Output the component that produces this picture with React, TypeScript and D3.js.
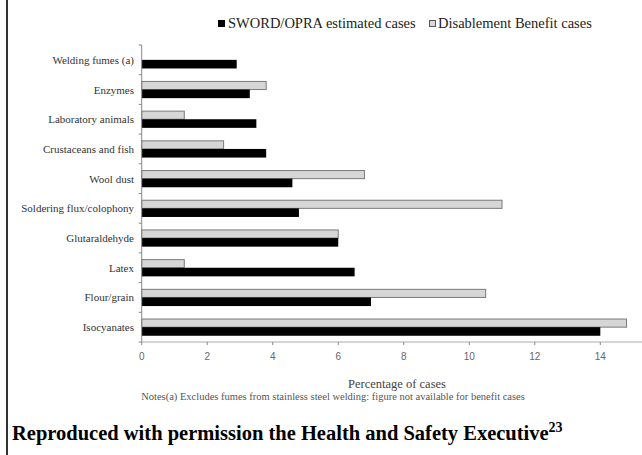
import React from "react";
import * as d3 from "d3";

const categories = [
  "Welding fumes (a)",
  "Enzymes",
  "Laboratory animals",
  "Crustaceans and fish",
  "Wool dust",
  "Soldering flux/colophony",
  "Glutaraldehyde",
  "Latex",
  "Flour/grain",
  "Isocyanates",
];
const swordValues = [2.9, 3.3, 3.5, 3.8, 4.6, 4.8, 6.0, 6.5, 7.0, 14.0];
const benefitValues: (number | null)[] = [null, 3.8, 1.3, 2.5, 6.8, 11.0, 6.0, 1.3, 10.5, 14.8];
const xTicks = [0, 2, 4, 6, 8, 10, 12, 14];
const seriesNames = ["SWORD/OPRA estimated cases", "Disablement Benefit cases"];

export default function App() {
  const W = 642;
  const H = 455;
  const x = d3.scaleLinear().domain([0, 15.3]).range([141.7, 642.9]);
  const y = d3.scaleBand<string>().domain(categories).range([45, 342]).paddingInner(0.42).paddingOuter(0.21);
  const bh = y.bandwidth() / 2;
  const step = y.step();
  const serif = "'Liberation Serif', 'Times New Roman', serif";
  const sans = "'Liberation Sans', Arial, sans-serif";

  return (
    <svg width={W} height={H} style={{ position: "absolute", left: 0, top: 0, background: "#fff" }}>
      <rect x={0} y={0} width={W} height={H} fill="#fff" />
      <line x1={7} x2={7} y1={0} y2={H} stroke="#333" strokeWidth={2} />

      {/* legend */}
      <rect x={218} y={20} width={7} height={7} fill="#000" />
      <text x={228} y={28} fontFamily={serif} fontSize={14.5} fill="#222">{seriesNames[0]}</text>
      <rect x={429.5} y={20.5} width={6} height={6} fill="#d9d9d9" stroke="#555" strokeWidth={1} />
      <text x={438} y={28} fontFamily={serif} fontSize={14.5} fill="#222">{seriesNames[1]}</text>

      {/* bars */}
      {categories.map((c, i) => {
        const top = y(c)!;
        const b = benefitValues[i];
        return (
          <g key={c}>
            {b !== null && (
              <rect x={x(0)} y={top + 0.5} width={x(b) - x(0)} height={bh - 0.5} fill="#d6d6d6" stroke="#7a7a7a" strokeWidth={1} />
            )}
            <rect x={x(0)} y={top + bh} width={x(swordValues[i]) - x(0)} height={bh} fill="#000" />
            <text x={134} y={top + bh + 4} textAnchor="end" fontFamily={serif} fontSize={11} fill="#333">{c}</text>
          </g>
        );
      })}

      {/* y axis */}
      <line x1={x(0)} x2={x(0)} y1={45} y2={342} stroke="#888" strokeWidth={1} />
      {d3.range(categories.length + 1).map((k) => (
        <line key={k} x1={x(0) - 3} x2={x(0)} y1={45 + k * step} y2={45 + k * step} stroke="#888" strokeWidth={1} />
      ))}
      {/* x axis */}
      <line x1={x(0)} x2={W} y1={342} y2={342} stroke="#aaa" strokeWidth={1} />
      {xTicks.map((t) => (
        <g key={t}>
          <line x1={x(t)} x2={x(t)} y1={342} y2={345} stroke="#888" strokeWidth={1} />
          <text x={x(t)} y={360} textAnchor="middle" fontFamily={sans} fontSize={10} fill="#666">{t}</text>
        </g>
      ))}

      <text x={397} y={388} textAnchor="middle" fontFamily={serif} fontSize={12.5} fill="#444">Percentage of cases</text>
      <text x={333} y={400} textAnchor="middle" fontFamily={serif} fontSize={10.5} fill="#555">
        Notes(a) Excludes fumes from stainless steel welding: figure not available for benefit cases
      </text>

      <text x={12} y={440} fontFamily={serif} fontSize={20.5} fontWeight="bold" fill="#000">
        Reproduced with permission the Health and Safety Executive
        <tspan dy={-8} fontSize={14}>23</tspan>
      </text>
    </svg>
  );
}
